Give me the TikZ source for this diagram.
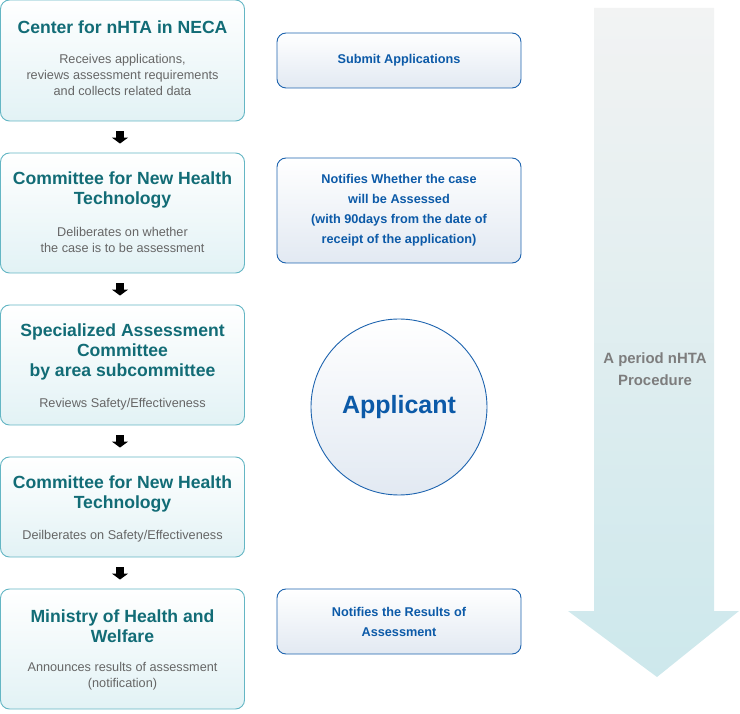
\documentclass[tikz,border=0pt]{standalone}
\usepackage{fontspec}
\setmainfont{Liberation Sans}
\usetikzlibrary{arrows.meta}

\definecolor{tealtxt}{RGB}{18,108,118}
\definecolor{greytxt}{RGB}{102,102,102}
\definecolor{bluetxt}{RGB}{12,90,168}
\definecolor{tealline}{RGB}{100,182,196}
\definecolor{blueline}{RGB}{30,100,175}
\definecolor{tealfill}{RGB}{226,242,245}
\definecolor{bluefill}{RGB}{226,233,242}
\definecolor{arrowtop}{RGB}{242,243,243}
\definecolor{arrowbot}{RGB}{205,232,236}

\tikzset{
	stagebox/.style={draw=tealline, line width=0.9pt, rounded corners=9pt, minimum width=244pt, inner sep=0, top color=white, middle color=white, bottom color=tealfill},
	notebox/.style={draw=blueline, line width=0.9pt, rounded corners=9pt, minimum width=244pt, inner sep=0, top color=white, middle color=white, bottom color=bluefill},
	stagetitle/.style={text=tealtxt, font=\fontsize{17.6}{20}\selectfont\bfseries, align=center, inner sep=0},
	stagetext/.style={text=greytxt, font=\fontsize{12.7}{16}\selectfont, align=center, inner sep=0},
	notetext/.style={text=bluetxt, font=\fontsize{12.7}{20}\selectfont\bfseries, align=center, inner sep=0},
	flowarrow/.style={line width=8pt, -{Triangle[width=16pt,length=6pt]}, shorten <=10pt, shorten >=9pt}
}

\begin{document}
\begin{tikzpicture}[x=1pt, y=-1pt]
	\useasboundingbox (0, 0) rectangle (740, 714);
	% Procedure arrow:
	\path[top color=arrowtop, bottom color=arrowbot] (594, 8) -- (714, 8) -- (714, 611) -- (739, 611) -- (657, 677) -- (568, 611) -- (594, 611) -- cycle;
	\node[text=greytxt!85, font=\fontsize{14.9}{22}\selectfont\bfseries, align=center] (Proc) at (655, 369) {A period nHTA\\Procedure};
	% Stages:
	\node[stagebox, minimum height=121pt] (Box1) at (122.5, 60.5) {};
	\node[stagetitle] (T1) at (122.5, 27) {Center for nHTA in NECA};
	\node[stagetext] (D1) at (122.5, 75) {Receives applications,\\reviews assessment requirements\\and collects related data};
	\node[stagebox, minimum height=120pt] (Box2) at (122.5, 213) {};
	\node[stagetitle] (T2) at (122.5, 190) {Committee for New Health\\Technology};
	\node[stagetext] (D2) at (122.5, 240) {Deliberates on whether\\the case is to be assessment};
	\node[stagebox, minimum height=120pt] (Box3) at (122.5, 365) {};
	\node[stagetitle] (T3) at (122.5, 352) {Specialized Assessment\\Committee\\by area subcommittee};
	\node[stagetext] (D3) at (122.5, 404) {Reviews Safety/Effectiveness};
	\node[stagebox, minimum height=100pt] (Box4) at (122.5, 507) {};
	\node[stagetitle] (T4) at (122.5, 494) {Committee for New Health\\Technology};
	\node[stagetext] (D4) at (122.5, 536) {Deilberates on Safety/Effectiveness};
	\node[stagebox, minimum height=120pt] (Box5) at (122.5, 649) {};
	\node[stagetitle] (T5) at (122.5, 626) {Ministry of Health and\\Welfare};
	\node[stagetext] (D5) at (122.5, 676) {Announces results of assessment\\(notification)};
	% Flow arrows:
	\draw[flowarrow] ([xshift=-2.5pt]Box1.south) -- ([xshift=-2.5pt]Box2.north);
	\draw[flowarrow] ([xshift=-2.5pt]Box2.south) -- ([xshift=-2.5pt]Box3.north);
	\draw[flowarrow] ([xshift=-2.5pt]Box3.south) -- ([xshift=-2.5pt]Box4.north);
	\draw[flowarrow] ([xshift=-2.5pt]Box4.south) -- ([xshift=-2.5pt]Box5.north);
	% Applicant side:
	\node[notebox, minimum height=55pt] (Note1) at (399, 60.5) {};
	\node[notetext] (N1) at (399, 60) {Submit Applications};
	\node[notebox, minimum height=105pt] (Note2) at (399, 210.5) {};
	\node[notetext] (N2) at (399, 210) {Notifies Whether the case\\will be Assessed\\(with 90days from the date of\\receipt of the application)};
	\node[notebox, minimum height=65pt] (Note3) at (399, 621.5) {};
	\node[notetext] (N3) at (399, 622) {Notifies the Results of\\Assessment};
	\node[circle, draw=blueline, line width=0.9pt, minimum size=176pt, inner sep=0, top color=white, middle color=white, bottom color=bluefill, text=bluetxt, font=\fontsize{25}{28}\selectfont\bfseries] (Appl) at (399, 407) {Applicant};
\end{tikzpicture}
\end{document}
